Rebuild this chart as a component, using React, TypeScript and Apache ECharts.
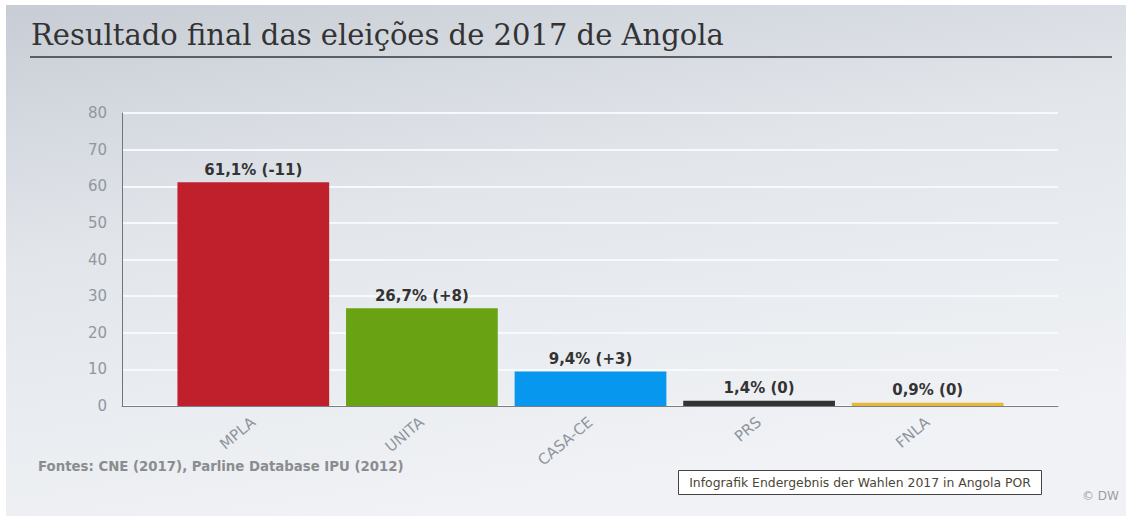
import React, { useEffect, useRef } from "react";
import * as echarts from "echarts";

const categories = ["MPLA", "UNITA", "CASA-CE", "PRS", "FNLA"];
const values = [61.1, 26.7, 9.4, 1.4, 0.9];
const labels = ["61,1% (-11)", "26,7% (+8)", "9,4% (+3)", "1,4% (0)", "0,9% (0)"];
const colors = ["#c0202b", "#69a314", "#0797ef", "#333333", "#e6b93a"];
const yTicks = { min: 0, max: 80, interval: 10 };

const title = "Resultado final das eleições de 2017 de Angola";
const source = "Fontes: CNE (2017), Parline Database IPU (2012)";
const boxText = "Infografik Endergebnis der Wahlen 2017 in Angola POR";
const credit = "© DW";

export default function App() {
  const ref = useRef<HTMLDivElement>(null);
  useEffect(() => {
    if (!ref.current) return;
    const chart = echarts.init(ref.current, null, { renderer: "svg" });
    const sans = "'DejaVu Sans', Verdana, sans-serif";
    chart.setOption({
      animation: false,
      backgroundColor: "#ffffff",
      graphic: [
        {
          type: "rect",
          z: -10,
          silent: true,
          shape: { x: 6, y: 5, width: 1120, height: 511 },
          style: {
            fill: new echarts.graphic.LinearGradient(0, 0, 0.35, 1, [
              { offset: 0, color: "#c8cdd5" },
              { offset: 0.45, color: "#e2e6eb" },
              { offset: 1, color: "#f0f2f5" },
            ]),
          },
        },
        {
          type: "text",
          left: 31,
          top: 20,
          style: {
            text: title,
            font: "29px 'DejaVu Serif', Georgia, serif",
            fill: "#333333",
          },
        },
        {
          type: "line",
          shape: { x1: 30, y1: 57, x2: 1112, y2: 57 },
          style: { stroke: "#5a5f66", lineWidth: 2 },
        },
        {
          type: "text",
          left: 38,
          top: 460,
          style: {
            text: source,
            font: "bold 13.3px " + sans,
            fill: "#8a8c90",
          },
        },
        {
          type: "group",
          left: 678,
          top: 470,
          children: [
            {
              type: "rect",
              shape: { x: 0, y: 0, width: 363, height: 24 },
              style: { fill: "#ffffff", stroke: "#444444", lineWidth: 1 },
            },
            {
              type: "text",
              x: 181.5,
              y: 12,
              style: {
                text: boxText,
                font: "12.4px " + sans,
                fill: "#4a4636",
                align: "center",
                verticalAlign: "middle",
              },
            },
          ],
        },
        {
          type: "text",
          left: 1082,
          top: 490,
          style: { text: credit, font: "12px " + sans, fill: "#9a9ea4" },
        },
      ],
      grid: [
        { left: 122, right: 68, top: 113, bottom: 110 },
        { left: 169, right: 114, top: 113, bottom: 110 },
      ],
      xAxis: [
        {
          gridIndex: 0,
          type: "value",
          min: 0,
          max: 1,
          axisLine: { show: true, lineStyle: { color: "#7a7e84", width: 1 } },
          axisTick: { show: false },
          axisLabel: { show: false },
          splitLine: { show: false },
        },
        {
          gridIndex: 1,
          type: "category",
          data: categories,
          axisLine: { show: false },
          axisTick: { show: false },
          axisLabel: {
            rotate: 40,
            color: "#8f959e",
            fontFamily: sans,
            fontSize: 15,
            margin: 14,
          },
        },
      ],
      yAxis: [
        {
          gridIndex: 0,
          type: "value",
          ...yTicks,
          axisLine: { show: true, lineStyle: { color: "#70757c", width: 1 } },
          axisTick: { show: false },
          axisLabel: {
            color: "#9097a0",
            fontFamily: sans,
            fontSize: 15,
            margin: 15,
          },
          splitLine: { show: true, lineStyle: { color: "#f7f9fb", width: 2 } },
        },
        {
          gridIndex: 1,
          type: "value",
          ...yTicks,
          show: false,
          splitLine: { show: false },
        },
      ],
      series: [
        {
          type: "bar",
          xAxisIndex: 1,
          yAxisIndex: 1,
          barWidth: "90%",
          data: values.map((v, i) => ({
            value: v,
            itemStyle: { color: colors[i] },
            label: { formatter: labels[i] },
          })),
          label: {
            show: true,
            position: "top",
            distance: 5,
            color: "#333333",
            fontFamily: sans,
            fontWeight: "bold",
            fontSize: 15,
          },
        },
      ],
    });
    return () => chart.dispose();
  }, []);
  return (
    <div
      ref={ref}
      style={{ position: "fixed", left: 0, top: 0, width: 1126, height: 516 }}
    />
  );
}
